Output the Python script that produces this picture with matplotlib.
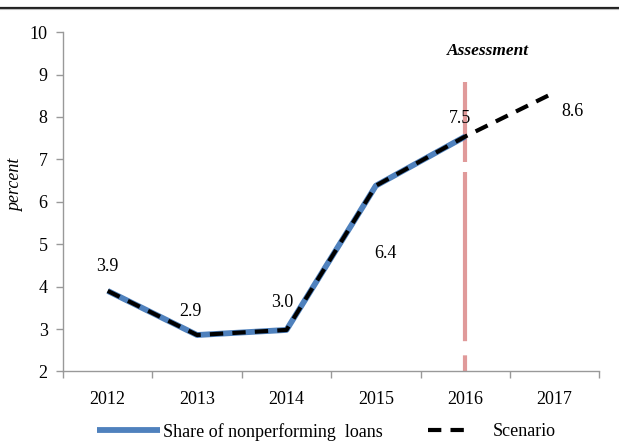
import matplotlib
matplotlib.use("Agg")
import matplotlib.pyplot as plt
from matplotlib.lines import Line2D

plt.rcParams['font.family'] = ['Liberation Serif', 'DejaVu Serif']

years = ['2012', '2013', '2014', '2015', '2016', '2017']
npl_share = [3.9, 2.86, 2.98, 6.38, 7.54]          # actual, through 2016
scenario = [3.9, 2.86, 2.98, 6.38, 7.54, 8.58]     # scenario, through 2017
label_text = ['3.9', '2.9', '3.0', '6.4', '7.5', '8.6']
label_offsets = [(0, 24), (-7, 24), (-4, 27), (10, -68), (-5, 18), (18, -19)]
assessment_year = '2016'

fig = plt.figure(figsize=(6.19, 4.43), dpi=100)
ax = fig.add_axes([0.1018, 0.1614, 0.8664, 0.766])

x = list(range(len(years)))
l1, = ax.plot(x[:len(npl_share)], npl_share, color='#4F81BD', lw=4.2,
              solid_capstyle='butt', label='Share of nonperforming  loans', zorder=3)
l2, = ax.plot(x, scenario, color='black', lw=3, dashes=(3.2, 2.2),
              label='Scenario', zorder=4)

xa = years.index(assessment_year)
ax.plot([xa, xa], [8.83, 2], color='#E09A9A', lw=3,
        dashes=(19.2, 2.4, 40.6, 3.4, 80, 1), zorder=2)
ax.text(xa + 0.25, 9.55, 'Assessment', ha='center', va='center',
        fontsize=12.5, fontweight='bold', fontstyle='italic')

for i, (t, off) in enumerate(zip(label_text, label_offsets)):
    ax.annotate(t, (x[i], scenario[i]), xytext=off, textcoords='offset pixels',
                ha='center', va='center', fontsize=13)

ax.set_xlim(-0.5, len(years) - 0.5)
ax.set_ylim(2, 10)
ax.set_yticks(range(2, 11))
ax.set_xticks(x)
ax.set_xticklabels(years)
ax.set_xticks([i - 0.5 for i in range(len(years) + 1)], minor=True)
ax.tick_params(axis='x', which='major', length=0, pad=14, labelsize=13)
ax.tick_params(axis='x', which='minor', length=5, width=1, color='#999999', direction='out')
ax.tick_params(axis='y', length=5, width=1, color='#999999', direction='out',
               labelsize=13, pad=6)
for s in ['top', 'right']:
    ax.spines[s].set_visible(False)
for s in ['left', 'bottom']:
    ax.spines[s].set_color('#999999')
    ax.spines[s].set_linewidth(1)
ax.set_ylabel('percent', fontsize=13, fontstyle='italic')
ax.yaxis.set_label_coords(-0.0728, 0.55)

leg1 = ax.legend(handles=[l1], loc='center left', bbox_to_anchor=(0.063, -0.177),
                 frameon=False, fontsize=13, handlelength=3.5, handletextpad=0.15,
                 borderpad=0, borderaxespad=0)
ax.add_artist(leg1)
ax.legend(handles=[l2], loc='center left', bbox_to_anchor=(0.681, -0.177),
          frameon=False, fontsize=13, handlelength=2.3, handletextpad=1.27,
          borderpad=0, borderaxespad=0)

fig.add_artist(Line2D([0, 1], [1 - 7.5 / 443, 1 - 7.5 / 443], color='#222222', lw=1.6))
fig.add_artist(Line2D([0, 1], [1 - 9.3 / 443, 1 - 9.3 / 443], color='#BBBBBB', lw=0.8))

fig.savefig('out.png', dpi=100)
